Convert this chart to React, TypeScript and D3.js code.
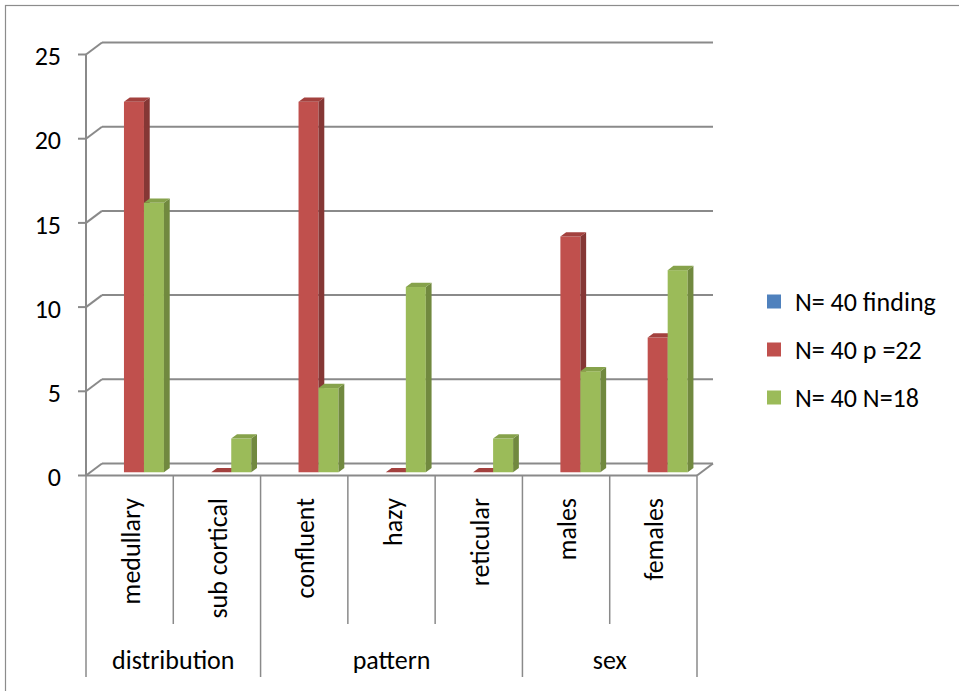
import React from "react";
import * as d3 from "d3";

const categories = ["medullary", "sub cortical", "confluent", "hazy", "reticular", "males", "females"];
const groups = [
  { name: "distribution", start: 0, end: 2 },
  { name: "pattern", start: 2, end: 5 },
  { name: "sex", start: 5, end: 7 },
];
const seriesNames = ["N= 40 finding", "N= 40 p =22", "N= 40 N=18"];
const findingValues: (number | null)[] = [null, null, null, null, null, null, null];
const pValues: (number | null)[] = [22, 0, 22, 0, 0, 14, 8];
const nValues: (number | null)[] = [16, 2, 5, 11, 2, 6, 12];
const yTicks = [0, 5, 10, 15, 20, 25];

const palette = [
  { front: "#4F81BD", side: "#3A6190", top: "#4572A7" },
  { front: "#C0504D", side: "#853735", top: "#A3413E" },
  { front: "#9BBB59", side: "#71893F", top: "#86A24B" },
];

const FONT = "Carlito, Lato, 'Liberation Sans', sans-serif";
const FS = 26;

export default function App() {
  const W = 959, H = 691;
  const x0 = 86, x1 = 697;
  const floorY = 475.5;
  const depth = { dx: 16, dy: -12 };
  const barFront = 0.27, barBack = 0.63;
  const y = d3.scaleLinear().domain([0, 25]).range([floorY, floorY - 25 * 16.84]);
  const xCat = d3.scaleBand<string>().domain(categories).range([x0, x1]).padding(0);
  const seriesVals = [findingValues, pValues, nValues];
  const barW = 20;
  const xSer = d3.scaleBand<number>().domain([0, 1, 2]).range([0, barW * 3]).padding(0);
  const grid = "#8A8A8A";

  const bfx = depth.dx * barFront, bfy = depth.dy * barFront;
  const bdx = depth.dx * (barBack - barFront), bdy = depth.dy * (barBack - barFront);

  const bars: React.ReactNode[] = [];
  categories.forEach((c, ci) => {
    const center = (xCat(c) as number) + xCat.bandwidth() / 2;
    const gx = center - barW * 1.5 + bfx;
    seriesVals.forEach((vals, si) => {
      const v = vals[ci];
      if (v === null || v === undefined) return;
      const col = palette[si];
      const bx = gx + (xSer(si) as number);
      const yb = y(0) + bfy;
      const yt = y(v) + bfy;
      const pts = (arr: number[][]) => arr.map((p) => p.join(",")).join(" ");
      bars.push(
        <g key={`${ci}-${si}`}>
          {v > 0 && <rect x={bx} y={yt} width={barW} height={yb - yt} fill={col.front} />}
          {v > 0 && (
            <polygon
              points={pts([[bx + barW, yt], [bx + barW + bdx, yt + bdy], [bx + barW + bdx, yb + bdy], [bx + barW, yb]])}
              fill={col.side}
            />
          )}
          <polygon
            points={pts([[bx, yt], [bx + barW, yt], [bx + barW + bdx, yt + bdy], [bx + bdx, yt + bdy]])}
            fill={col.top}
          />
        </g>
      );
    });
  });

  const boundaries = d3.range(categories.length + 1).map((i) => x0 + i * xCat.step());
  const groupBounds = new Set<number>([0, ...groups.map((g) => g.end)]);

  return (
    <svg width={W} height={H} style={{ position: "absolute", left: 0, top: 0, background: "#fff" }} fontFamily={FONT}>
      <rect x={5.5} y={5.5} width={960} height={700} fill="none" stroke="#8C8C8C" strokeWidth={1.2} />
      {yTicks.map((t) => (
        <g key={t}>
          <line x1={x0 - 8} x2={x0} y1={y(t)} y2={y(t)} stroke={grid} strokeWidth={2} />
          <line x1={x0} y1={y(t)} x2={x0 + depth.dx} y2={y(t) + depth.dy} stroke={grid} strokeWidth={2} />
          <line x1={x0 + depth.dx} x2={x1 + depth.dx} y1={y(t) + depth.dy} y2={y(t) + depth.dy} stroke={grid} strokeWidth={2} />
          <text x={61} y={y(t) + 1.5} dy="0.35em" textAnchor="end" fontSize={FS} fill="#000">{t}</text>
        </g>
      ))}
      <line x1={x0} x2={x1} y1={floorY} y2={floorY} stroke={grid} strokeWidth={2} />
      <line x1={x1} y1={floorY} x2={x1 + depth.dx} y2={floorY + depth.dy} stroke={grid} strokeWidth={2} />
      <line x1={x0} x2={x0} y1={y(25)} y2={floorY} stroke={grid} strokeWidth={2} />
      {bars}
      {boundaries.map((bx, i) => (
        <line key={i} x1={bx} x2={bx} y1={floorY} y2={groupBounds.has(i) ? 677 : 624} stroke={grid} strokeWidth={1.5} />
      ))}
      {categories.map((c) => {
        const cx = (xCat(c) as number) + xCat.bandwidth() / 2 + 1;
        return (
          <text key={c} transform={`translate(${cx},498) rotate(-90)`} textAnchor="end" dy="0.35em" fontSize={FS} fill="#000">
            {c}
          </text>
        );
      })}
      {groups.map((g) => {
        const cx = (boundaries[g.start] + boundaries[g.end]) / 2;
        return (
          <text key={g.name} x={cx} y={660} dy="0.35em" textAnchor="middle" fontSize={FS} fill="#000">
            {g.name}
          </text>
        );
      })}
      {seriesNames.map((s, i) => (
        <g key={s} transform={`translate(767,${301.5 + i * 48})`}>
          <rect x={0} y={-7} width={14} height={14} fill={palette[i].front} />
          <text x={28} y={0} dy="0.35em" fontSize={FS} fill="#000">{s}</text>
        </g>
      ))}
    </svg>
  );
}
